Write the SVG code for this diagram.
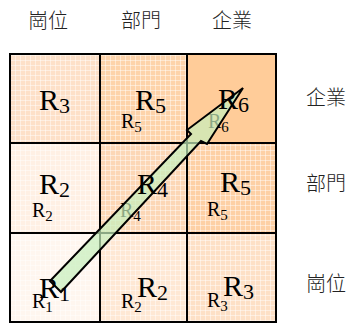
<svg xmlns="http://www.w3.org/2000/svg" width="350" height="325" viewBox="0 0 350 325">
<defs>
<pattern id="tex" width="5" height="5" patternUnits="userSpaceOnUse">
<path d="M0 0.5H5M0.5 0V5" stroke="#ffffff" stroke-width="1" stroke-opacity="0.45"/>
</pattern>
</defs>
<style>
.jp{font-family:"Noto Sans CJK TC","Noto Sans CJK JP",sans-serif;font-size:20px;font-weight:300;fill:#222}
.big{font-family:"Liberation Serif",serif;font-size:30px;fill:#000}
.sm{font-family:"Liberation Serif",serif;font-size:20px;fill:#000}
.grid{fill:none;stroke:#000;stroke-width:2}
.arrow{fill:#c6f0bc;fill-opacity:0.7;stroke:#000;stroke-width:2;stroke-linejoin:miter}
</style>
<g id="headers">
<text class="jp" x="48" y="28" text-anchor="middle">崗位</text>
<text class="jp" x="141" y="28" text-anchor="middle">部門</text>
<text class="jp" x="232" y="28" text-anchor="middle">企業</text>
<text class="jp" x="326" y="105" text-anchor="middle">企業</text>
<text class="jp" x="326" y="191" text-anchor="middle">部門</text>
<text class="jp" x="326" y="291" text-anchor="middle">崗位</text>
</g>
<g id="cells">
<rect x="10" y="54" width="90" height="89" fill="#fde0c8"/>
<rect x="100" y="54" width="87" height="89" fill="#fdd3aa"/>
<rect x="187" y="54" width="89" height="89" fill="#ffcc99"/>
<rect x="10" y="143" width="90" height="90" fill="#fff0e4"/>
<rect x="100" y="143" width="87" height="90" fill="#fcd7b6"/>
<rect x="187" y="143" width="89" height="90" fill="#fdd0a5"/>
<rect x="10" y="233" width="90" height="89" fill="#fff6ef"/>
<rect x="100" y="233" width="87" height="89" fill="#fee8d4"/>
<rect x="187" y="233" width="89" height="89" fill="#fde0c6"/>
<rect x="10" y="54" width="177" height="268" fill="url(#tex)"/>
<rect x="187" y="143" width="89" height="179" fill="url(#tex)"/>
</g>
<g id="grid">
<rect class="grid" x="10" y="54" width="266" height="268"/>
<path class="grid" d="M100 54V322M187 54V322M10 143H276M10 233H276"/>
</g>
<g id="small-labels">
<text class="sm" x="121" y="128">R<tspan font-size="15" dy="4">5</tspan></text>
<text class="sm" x="208" y="128">R<tspan font-size="15" dy="4">6</tspan></text>
<text class="sm" x="32" y="217">R<tspan font-size="15" dy="4">2</tspan></text>
<text class="sm" x="120" y="217">R<tspan font-size="15" dy="4">4</tspan></text>
<text class="sm" x="207" y="216">R<tspan font-size="15" dy="4">5</tspan></text>
<text class="sm" x="32" y="308">R<tspan font-size="15" dy="4">1</tspan></text>
<text class="sm" x="121" y="308">R<tspan font-size="15" dy="4">2</tspan></text>
<text class="sm" x="207" y="307">R<tspan font-size="15" dy="4">3</tspan></text>
</g>
<g id="connectors">
<polygon class="arrow" points="243,88 207,144 201,141 61,292 50,281 191,134 187,130"/>
</g>
<g id="big-labels">
<text class="big" x="39" y="110">R<tspan font-size="22" dy="3">3</tspan></text>
<text class="big" x="135" y="110">R<tspan font-size="22" dy="3">5</tspan></text>
<text class="big" x="218" y="109">R<tspan font-size="22" dy="3">6</tspan></text>
<text class="big" x="39" y="194">R<tspan font-size="22" dy="3">2</tspan></text>
<text class="big" x="137" y="194">R<tspan font-size="22" dy="3">4</tspan></text>
<text class="big" x="220" y="192">R<tspan font-size="22" dy="3">5</tspan></text>
<text class="big" x="39" y="298">R<tspan font-size="22" dy="3">1</tspan></text>
<text class="big" x="137" y="297">R<tspan font-size="22" dy="3">2</tspan></text>
<text class="big" x="223" y="296">R<tspan font-size="22" dy="3">3</tspan></text>
</g>
</svg>
